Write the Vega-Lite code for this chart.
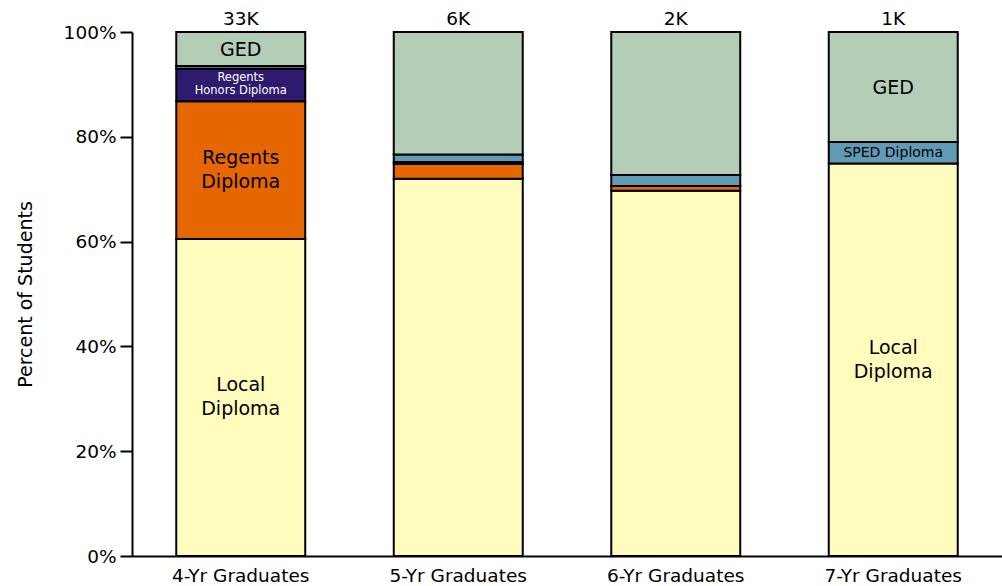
{
  "$schema": "https://vega.github.io/schema/vega-lite/v6.json",
  "width": 870,
  "height": 524,
  "autosize": "none",
  "padding": {"left": 132, "top": 32, "right": 0, "bottom": 30},
  "background": "white",
  "config": {
    "view": {"stroke": null},
    "font": "DejaVu Sans",
    "axis": {"labelFont": "DejaVu Sans", "titleFont": "DejaVu Sans"}
  },
  "datasets": {
    "segs": [
      {"grad": "4-Yr Graduates", "type": "Local", "k": 1, "pct": 60.5, "label": "Local\nDiploma"},
      {"grad": "4-Yr Graduates", "type": "Regents", "k": 2, "pct": 26.3, "label": "Regents\nDiploma"},
      {"grad": "4-Yr Graduates", "type": "Regents Honors", "k": 3, "pct": 6.2, "label": "Regents\nHonors Diploma"},
      {"grad": "4-Yr Graduates", "type": "SPED", "k": 4, "pct": 0.5, "label": ""},
      {"grad": "4-Yr Graduates", "type": "GED", "k": 5, "pct": 6.5, "label": "GED"},
      {"grad": "5-Yr Graduates", "type": "Local", "k": 1, "pct": 72.0, "label": ""},
      {"grad": "5-Yr Graduates", "type": "Regents", "k": 2, "pct": 2.8, "label": ""},
      {"grad": "5-Yr Graduates", "type": "Regents Honors", "k": 3, "pct": 0.4, "label": ""},
      {"grad": "5-Yr Graduates", "type": "SPED", "k": 4, "pct": 1.4, "label": ""},
      {"grad": "5-Yr Graduates", "type": "GED", "k": 5, "pct": 23.4, "label": ""},
      {"grad": "6-Yr Graduates", "type": "Local", "k": 1, "pct": 69.7, "label": ""},
      {"grad": "6-Yr Graduates", "type": "Regents", "k": 2, "pct": 0.9, "label": ""},
      {"grad": "6-Yr Graduates", "type": "Regents Honors", "k": 3, "pct": 0.0, "label": ""},
      {"grad": "6-Yr Graduates", "type": "SPED", "k": 4, "pct": 2.1, "label": ""},
      {"grad": "6-Yr Graduates", "type": "GED", "k": 5, "pct": 27.3, "label": ""},
      {"grad": "7-Yr Graduates", "type": "Local", "k": 1, "pct": 74.9, "label": "Local\nDiploma"},
      {"grad": "7-Yr Graduates", "type": "Regents", "k": 2, "pct": 0.0, "label": ""},
      {"grad": "7-Yr Graduates", "type": "Regents Honors", "k": 3, "pct": 0.0, "label": ""},
      {"grad": "7-Yr Graduates", "type": "SPED", "k": 4, "pct": 4.1, "label": "SPED Diploma"},
      {"grad": "7-Yr Graduates", "type": "GED", "k": 5, "pct": 21.0, "label": "GED"}
    ],
    "totals": [
      {"grad": "4-Yr Graduates", "total": "33K"},
      {"grad": "5-Yr Graduates", "total": "6K"},
      {"grad": "6-Yr Graduates", "total": "2K"},
      {"grad": "7-Yr Graduates", "total": "1K"}
    ]
  },
  "encoding": {
    "x": {
      "field": "grad",
      "type": "nominal",
      "scale": {"paddingInner": 0.407, "paddingOuter": 0.2035},
      "axis": {
        "title": null,
        "labelAngle": 0,
        "labelFontSize": 18.5,
        "labelColor": "black",
        "labelPadding": 10,
        "ticks": false,
        "domainColor": "black",
        "domainWidth": 2
      }
    }
  },
  "layer": [
    {
      "data": {"name": "segs"},
      "transform": [
        {"stack": "pct", "groupby": ["grad"], "sort": [{"field": "k", "order": "ascending"}], "as": ["y0", "y1"]},
        {"filter": "datum.pct > 0"}
      ],
      "mark": {"type": "bar", "stroke": "black", "strokeWidth": 2},
      "encoding": {
        "y": {
          "field": "y1",
          "type": "quantitative",
          "scale": {"domain": [0, 100], "nice": false},
          "axis": {
            "title": "Percent of Students",
            "titleFontSize": 19,
            "titleFontWeight": "normal",
            "titleColor": "black",
            "titlePadding": 28,
            "values": [0, 20, 40, 60, 80, 100],
            "labelExpr": "datum.value + '%'",
            "labelFontSize": 18.5,
            "labelColor": "black",
            "labelPadding": 4,
            "tickSize": 12,
            "tickColor": "black",
            "tickWidth": 2,
            "domainColor": "black",
            "domainWidth": 2,
            "grid": false
          }
        },
        "y2": {"field": "y0"},
        "color": {
          "field": "type",
          "type": "nominal",
          "legend": null,
          "scale": {
            "domain": ["Local", "Regents", "Regents Honors", "SPED", "GED"],
            "range": ["#FFFCBE", "#E66600", "#2E1A6E", "#609AB4", "#B4CDB6"]
          }
        }
      }
    },
    {
      "data": {"name": "segs"},
      "transform": [
        {"stack": "pct", "groupby": ["grad"], "sort": [{"field": "k", "order": "ascending"}], "as": ["y0", "y1"]},
        {"filter": "datum.label != '' && (datum.type === 'Local' || datum.type === 'Regents')"},
        {"calculate": "(datum.y0 + datum.y1) / 2", "as": "mid"}
      ],
      "mark": {"type": "text", "lineBreak": "\n", "baseline": "middle", "align": "center", "lineHeight": 24, "fontSize": 19, "color": "black", "dy": -12},
      "encoding": {
        "y": {"field": "mid", "type": "quantitative"},
        "text": {"field": "label"}
      }
    },
    {
      "data": {"name": "segs"},
      "transform": [
        {"stack": "pct", "groupby": ["grad"], "sort": [{"field": "k", "order": "ascending"}], "as": ["y0", "y1"]},
        {"filter": "datum.label != '' && datum.type === 'GED'"},
        {"calculate": "(datum.y0 + datum.y1) / 2", "as": "mid"}
      ],
      "mark": {"type": "text", "baseline": "middle", "align": "center", "fontSize": 19, "color": "black", "dy": 1},
      "encoding": {
        "y": {"field": "mid", "type": "quantitative"},
        "text": {"field": "label"}
      }
    },
    {
      "data": {"name": "segs"},
      "transform": [
        {"stack": "pct", "groupby": ["grad"], "sort": [{"field": "k", "order": "ascending"}], "as": ["y0", "y1"]},
        {"filter": "datum.label != '' && datum.type === 'Regents Honors'"},
        {"calculate": "(datum.y0 + datum.y1) / 2", "as": "mid"}
      ],
      "mark": {"type": "text", "lineBreak": "\n", "baseline": "middle", "align": "center", "lineHeight": 13, "fontSize": 11.5, "color": "white", "dy": -6.5},
      "encoding": {
        "y": {"field": "mid", "type": "quantitative"},
        "text": {"field": "label"}
      }
    },
    {
      "data": {"name": "segs"},
      "transform": [
        {"stack": "pct", "groupby": ["grad"], "sort": [{"field": "k", "order": "ascending"}], "as": ["y0", "y1"]},
        {"filter": "datum.label != '' && datum.type === 'SPED'"},
        {"calculate": "(datum.y0 + datum.y1) / 2", "as": "mid"}
      ],
      "mark": {"type": "text", "baseline": "middle", "align": "center", "fontSize": 14, "color": "black"},
      "encoding": {
        "y": {"field": "mid", "type": "quantitative"},
        "text": {"field": "label"}
      }
    },
    {
      "data": {"name": "totals"},
      "mark": {"type": "text", "baseline": "bottom", "dy": -3, "fontSize": 18.5, "color": "black"},
      "encoding": {
        "y": {"datum": 100, "type": "quantitative"},
        "text": {"field": "total"}
      }
    }
  ]
}
